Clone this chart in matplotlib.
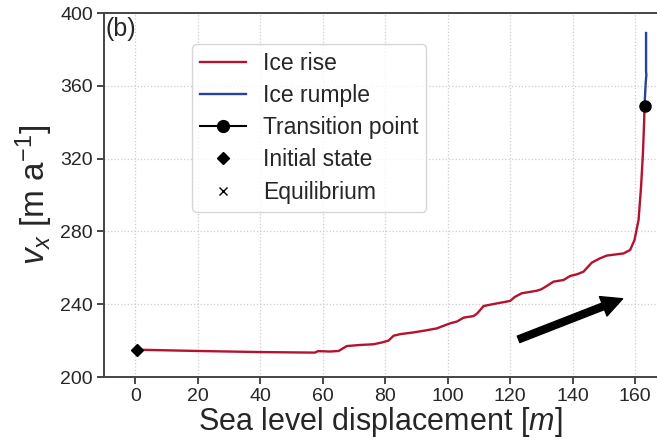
import matplotlib
matplotlib.use("Agg")
import matplotlib.pyplot as plt
from matplotlib.lines import Line2D

plt.rcParams['font.family'] = ['Liberation Sans', 'DejaVu Sans']
plt.rcParams['mathtext.fontset'] = 'custom'
plt.rcParams['mathtext.rm'] = 'Liberation Sans'
plt.rcParams['mathtext.it'] = 'Liberation Sans:italic'

# Ice-rise branch: sea level displacement vs. flow speed
rise_x = [0.5, 20, 40, 57.5, 58.5, 62.4, 65.1, 67.7, 72, 76.3, 79, 81.1, 82.7,
          85, 89.1, 93, 96.5, 98.5, 100.8, 103, 105.1, 108.3, 109.5, 111.5,
          115, 120, 121.5, 123.7, 128.5, 130, 131.7, 133.9, 137.1, 139.2,
          141.5, 143.5, 146.1, 148.5, 150.9, 156.3, 158.4, 159.8, 161.1,
          161.9, 162.5, 162.9, 163.0]
rise_v = [215, 214.3, 213.7, 213.4, 214.2, 214.0, 214.3, 217.0, 217.6, 218.0,
          219.0, 220.0, 222.7, 223.6, 224.5, 225.6, 226.7, 228, 229.5, 230.5,
          232.6, 233.5, 235, 239, 240.2, 241.8, 244, 246, 247.4, 248.2, 250,
          252.4, 253.3, 255.5, 256.5, 257.9, 262.8, 265, 266.7, 267.9, 269.8,
          275.3, 286.3, 304.6, 322.9, 341.2, 349]

# Ice-rumple branch
rumple_x = [163.0, 163.4, 163.6, 163.5, 163.5]
rumple_v = [349, 362, 366, 368, 389]

transition = (163.0, 349)
initial = (0.5, 215)

# Direction arrow (tail, head)
arrow_tail = (122.7, 220.7)
arrow_head = (156.0, 243.0)

x_ticks = [0, 20, 40, 60, 80, 100, 120, 140, 160]
y_ticks = [200, 240, 280, 320, 360, 400]

red = '#b5122e'
blue = '#27439a'
ink = '#262626'

fig = plt.figure(figsize=(6.57, 4.40), dpi=100)
ax = fig.add_axes([104 / 657, 63 / 440, 553 / 657, 364 / 440])

ax.grid(True, color='#cccccc', linestyle=':', linewidth=0.9)
ax.set_axisbelow(True)

ax.plot(rise_x, rise_v, color=red, lw=1.7, zorder=3)
ax.plot(rumple_x, rumple_v, color=blue, lw=1.7, zorder=3)
ax.plot(*transition, 'o', color='black', ms=8, zorder=4)
ax.plot(*initial, 'D', color='black', ms=6, zorder=4)

ax.annotate('', xy=arrow_head, xytext=arrow_tail,
            arrowprops=dict(facecolor='black', edgecolor='black',
                            width=5, headwidth=15, headlength=15))

ax.set_xlim(-10, 167)
ax.set_ylim(200, 400)
ax.set_xticks(x_ticks)
ax.set_yticks(y_ticks)
ax.tick_params(labelsize=14, colors=ink, length=5, width=1.2,
               direction='out', pad=3)
for side in ['left', 'bottom', 'top']:
    ax.spines[side].set_color('#444444')
    ax.spines[side].set_linewidth(1.4)
ax.spines['right'].set_visible(False)

ax.set_xlabel('Sea level displacement [$m$]', fontsize=22, color=ink,
              labelpad=0)
ax.set_ylabel(r'$v_x$ [m a$^{-1}$]', fontsize=24, color=ink, labelpad=4)

ax.text(0.003, 0.99, '(b)', transform=ax.transAxes, fontsize=18,
        va='top', ha='left', color=ink)

handles = [
    Line2D([], [], color=red, lw=1.7),
    Line2D([], [], color=blue, lw=1.7),
    Line2D([], [], color='black', lw=1.5, marker='o', ms=8.5),
    Line2D([], [], color='black', ls='none', marker='D', ms=6.5),
    Line2D([], [], color='black', ls='none', marker='x', ms=5.5),
]
labels = ['Ice rise', 'Ice rumple', 'Transition point', 'Initial state',
          'Equilibrium']
leg = ax.legend(handles, labels, loc='upper left',
                bbox_to_anchor=(0.159, 0.915), borderaxespad=0,
                fontsize=16.5, handlelength=2.0, labelspacing=0.4,
                borderpad=0.35, handletextpad=0.75, fancybox=True,
                framealpha=0.8, edgecolor='#cccccc')
for t in leg.get_texts():
    t.set_color(ink)

fig.savefig('out.png', dpi=100)
